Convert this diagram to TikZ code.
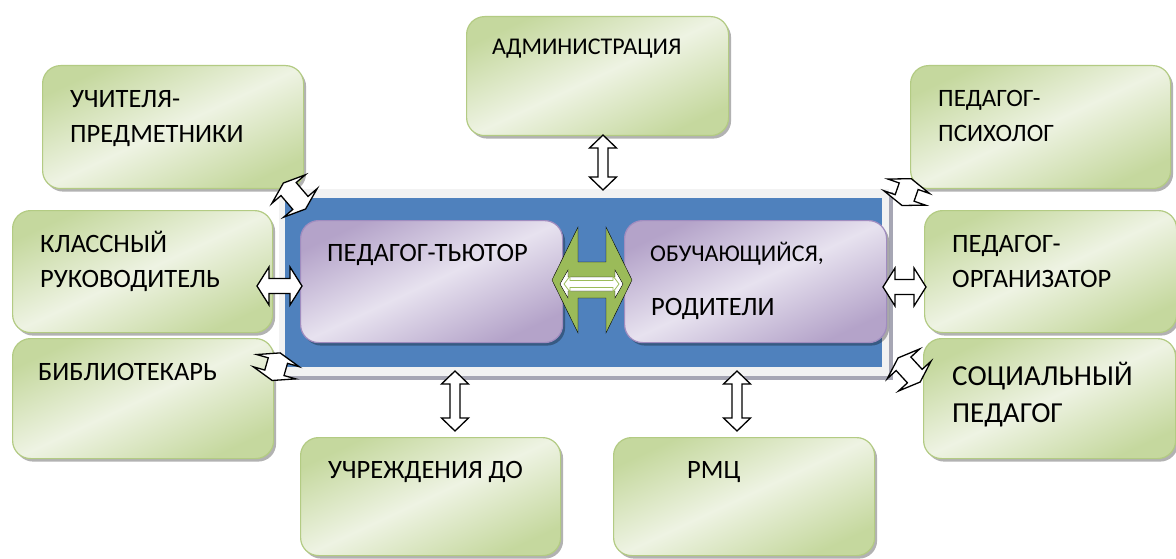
\documentclass[tikz,border=0pt]{standalone}
\usepackage{fontspec}
\setmainfont{Carlito}
\usetikzlibrary{calc,shadows}
\definecolor{gedge}{HTML}{C5D89E}
\definecolor{gmid}{HTML}{EEF3E3}
\definecolor{gline}{HTML}{B3CB83}
\definecolor{pedge}{HTML}{B4A3C9}
\definecolor{pmid}{HTML}{E7E2EF}
\definecolor{pline}{HTML}{A08CBF}
\definecolor{fblue}{HTML}{4F81BD}
\definecolor{flight}{HTML}{F2F2F2}
\definecolor{fshadow}{HTML}{A6A6B4}
\definecolor{garrow}{HTML}{9BBB59}
% double block arrow: [style]{start}{end}{head half-width}{shaft half-width}{head length}
\newcommand{\dblarr}[6][]{%
  \draw[#1] (#2) -- ($(#2)!#6!(#3)!#4!90:(#3)$) -- ($(#2)!#6!(#3)!#5!90:(#3)$)
    -- ($(#3)!#6!(#2)!#5!-90:(#2)$) -- ($(#3)!#6!(#2)!#4!-90:(#2)$) -- (#3)
    -- ($(#3)!#6!(#2)!#4!90:(#2)$) -- ($(#3)!#6!(#2)!#5!90:(#2)$)
    -- ($(#2)!#6!(#3)!#5!-90:(#3)$) -- ($(#2)!#6!(#3)!#4!-90:(#3)$) -- cycle;}
\begin{document}
\begin{tikzpicture}[x=1pt,y=-1pt,
  gbox/.style={draw=gline, line width=1.2pt, rounded corners=18pt,
    top color=gedge, bottom color=gedge, middle color=gmid, shading angle=25,
    drop shadow={shadow xshift=2.5pt, shadow yshift=-3pt, fill=black, opacity=0.3},
    anchor=north west, inner sep=0pt},
  pbox/.style={draw=pline, line width=1.2pt, rounded corners=18pt,
    top color=pedge, bottom color=pedge, middle color=pmid, shading angle=25,
    drop shadow={shadow xshift=2.5pt, shadow yshift=-3pt, fill=black, opacity=0.3},
    anchor=north west, inner sep=0pt},
  txt/.style={anchor=base west, inner sep=0pt, font=\fontsize{26.5}{30}\selectfont},
  wa/.style={draw=black, fill=white, line width=1.3pt, line join=miter},
  ga/.style={fill=garrow},
]
\useasboundingbox (0,0) rectangle (1176,559);
\fill[white] (0,0) rectangle (1176,559);

% central frame
\fill[fshadow] (282,192) rectangle (893,380);
\node[fill=flight, anchor=north west, minimum width=610pt, minimum height=187pt, inner sep=0pt] (frame) at (279,189) {};
\node[fill=fblue, anchor=north west, minimum width=597pt, minimum height=169pt, inner sep=0pt] (blue) at (285,198) {};

% outer boxes
\node[gbox, minimum width=262pt, minimum height=119pt] (adm) at (466,16) {};
\node[gbox, minimum width=261pt, minimum height=123pt] (uch) at (42,65) {};
\node[gbox, minimum width=260pt, minimum height=122pt] (kl) at (12,210) {};
\node[gbox, minimum width=261pt, minimum height=120pt] (bib) at (12,338) {};
\node[gbox, minimum width=260pt, minimum height=118pt] (uchr) at (300,437) {};
\node[gbox, minimum width=261pt, minimum height=118pt] (rmc) at (613,437) {};
\node[gbox, minimum width=260pt, minimum height=123pt] (psy) at (910,65) {};
\node[gbox, minimum width=252pt, minimum height=122pt] (org) at (924,210) {};
\node[gbox, minimum width=252pt, minimum height=120pt] (soc) at (923,338) {};

% inner boxes
\node[pbox, minimum width=262pt, minimum height=122pt] (tut) at (300,220) {};
\node[pbox, minimum width=262pt, minimum height=122pt] (obu) at (624,220) {};

% texts
\node[txt, font=\fontsize{24}{28}\selectfont] (tadm) at (492,55) {АДМИНИСТРАЦИЯ};
\node[txt] (tuch1) at (70,108) {УЧИТЕЛЯ-};
\node[txt] (tuch2) at (70,143) {ПРЕДМЕТНИКИ};
\node[txt] (tkl1) at (40,252) {КЛАССНЫЙ};
\node[txt] (tkl2) at (40,287) {РУКОВОДИТЕЛЬ};
\node[txt] (tbib) at (38,380) {БИБЛИОТЕКАРЬ};
\node[txt] (tuchr) at (328,478) {УЧРЕЖДЕНИЯ ДО};
\node[txt] (trmc) at (687,478) {РМЦ};
\node[txt, font=\fontsize{25}{29}\selectfont] (tpsy1) at (938,107) {ПЕДАГОГ-};
\node[txt, font=\fontsize{25}{29}\selectfont] (tpsy2) at (938,142) {ПСИХОЛОГ};
\node[txt] (torg1) at (952,252) {ПЕДАГОГ-};
\node[txt] (torg2) at (952,287) {ОРГАНИЗАТОР};
\node[txt, font=\fontsize{29}{33}\selectfont] (tsoc1) at (952,385) {СОЦИАЛЬНЫЙ};
\node[txt, font=\fontsize{29}{33}\selectfont] (tsoc2) at (952,422) {ПЕДАГОГ};
\node[txt] (ttut) at (327,261) {ПЕДАГОГ-ТЬЮТОР};
\node[txt, font=\fontsize{24}{28}\selectfont] (tobu1) at (650,261) {ОБУЧАЮЩИЙСЯ,};
\node[txt] (tobu2) at (651,315) {РОДИТЕЛИ};

% connector end points
\coordinate (a1) at (603,135); \coordinate (a2) at (603,190);
\coordinate (b1) at (455,371); \coordinate (b2) at (455,431);
\coordinate (c1) at (737,371); \coordinate (c2) at (737,431);
\coordinate (d1) at (257,286); \coordinate (d2) at (302,286);
\coordinate (e1) at (883,287); \coordinate (e2) at (926,287);
\coordinate (f1) at (283.4,183); \coordinate (f2) at (305.6,209);
\coordinate (g1) at (911.3,178.7); \coordinate (g2) at (902,205.5);
\coordinate (h1) at (280.1,352.9); \coordinate (h2) at (272.2,380.5);
\coordinate (i1) at (898.1,357.9); \coordinate (i2) at (920.2,382);
\coordinate (k1) at (552,280); \coordinate (k2) at (632,280);
\coordinate (m1) at (560,284); \coordinate (m2) at (623,284);
\coordinate (n1) at (564,284); \coordinate (n2) at (619,284);

% white block arrows
\dblarr[wa]{a1}{a2}{13.5pt}{5pt}{13pt}
\dblarr[wa]{b1}{b2}{13.5pt}{5pt}{13pt}
\dblarr[wa]{c1}{c2}{13.5pt}{5pt}{13pt}
\dblarr[wa]{d1}{d2}{19pt}{7.5pt}{12pt}
\dblarr[wa]{e1}{e2}{19pt}{7.5pt}{12pt}
\dblarr[wa]{f1}{f2}{22pt}{10pt}{8pt}
\dblarr[wa]{g1}{g2}{22pt}{10pt}{8pt}
\dblarr[wa]{h1}{h2}{22pt}{10pt}{8pt}
\dblarr[wa]{i1}{i2}{22pt}{10pt}{8pt}

% green arrow between inner boxes
\dblarr[ga]{k1}{k2}{53pt}{18pt}{26pt}
\dblarr[fill=white]{m1}{m2}{14pt}{7pt}{8pt}
\dblarr[draw=garrow, line width=0.8pt]{n1}{n2}{8pt}{3.5pt}{6pt}
\end{tikzpicture}
\end{document}
